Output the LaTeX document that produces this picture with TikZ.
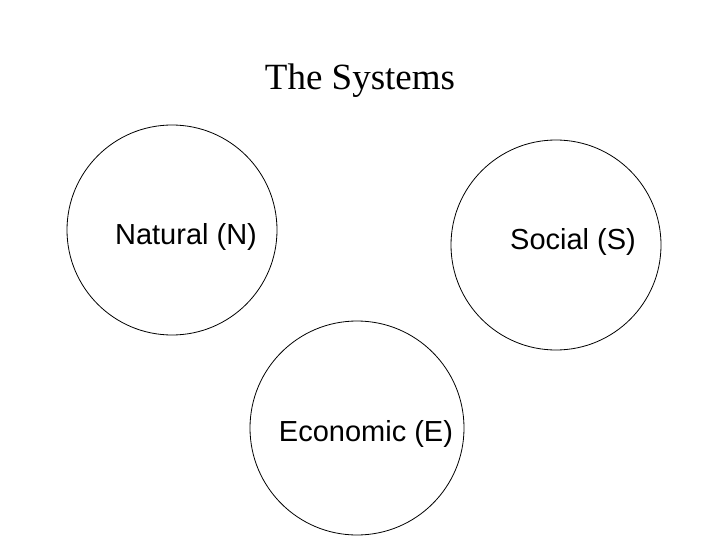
\documentclass[tikz,border=0pt]{standalone}
\usepackage{fontspec}
\setmainfont{Liberation Sans}
\newfontfamily\titlefont{Liberation Serif}
\begin{document}
\begin{tikzpicture}[x=1pt,y=-1pt,
  sys/.style={draw,circle,line width=0.8pt},
  lbl/.style={font=\fontsize{29}{34}\selectfont}]
\useasboundingbox (0,0) rectangle (720,540);
\node[font=\titlefont\fontsize{37}{42}\selectfont] (t) at (360,81) {The Systems};
\draw[sys] (172,230) circle (105);
\draw[sys] (556,245) circle (105);
\draw[sys] (357,428) circle (107);
\node[lbl] (n) at (186,237) {Natural (N)};
\node[lbl] (s) at (573,242) {Social (S)};
\node[lbl] (e) at (366,434) {Economic (E)};
\end{tikzpicture}
\end{document}
